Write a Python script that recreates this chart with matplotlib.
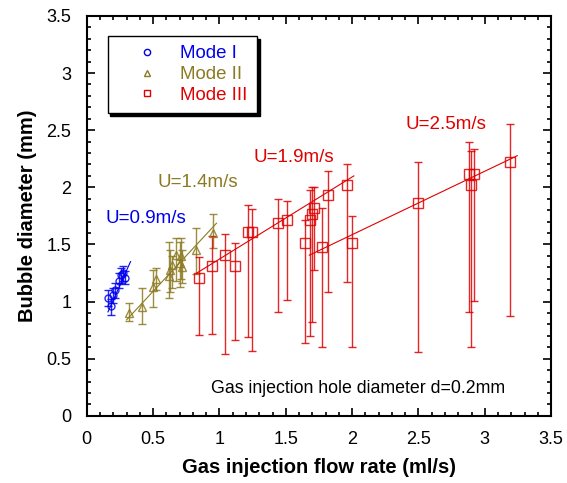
import matplotlib
matplotlib.use("Agg")
import matplotlib.pyplot as plt
from matplotlib.lines import Line2D
from matplotlib.ticker import MultipleLocator

plt.rcParams['font.family'] = ['Liberation Sans', 'DejaVu Sans']

# Mode I (circles)
m1_x = [0.16, 0.18, 0.20, 0.21, 0.24, 0.26, 0.27, 0.29]
m1_y = [1.03, 0.96, 1.06, 1.10, 1.18, 1.23, 1.25, 1.21]
m1_lo = [0.96, 0.88, 0.99, 1.03, 1.12, 1.16, 1.18, 1.15]
m1_hi = [1.10, 1.02, 1.12, 1.16, 1.25, 1.29, 1.31, 1.27]

# Mode II (triangles)
m2_x = [0.32, 0.42, 0.50, 0.52, 0.62, 0.63, 0.64, 0.67, 0.70, 0.71, 0.72, 0.82, 0.95]
m2_y = [0.90, 0.95, 1.13, 1.20, 1.22, 1.28, 1.32, 1.41, 1.34, 1.40, 1.30, 1.45, 1.60]
m2_lo = [0.83, 0.80, 0.95, 1.10, 1.03, 1.08, 1.12, 1.18, 1.13, 1.20, 1.16, 1.24, 1.47]
m2_hi = [0.99, 1.12, 1.28, 1.29, 1.52, 1.45, 1.40, 1.56, 1.52, 1.56, 1.45, 1.64, 1.77]

# Mode III (squares)
m3_x = [0.845, 0.945, 1.04, 1.116, 1.215, 1.247, 1.443, 1.506, 1.645, 1.68, 1.70,
        1.715, 1.77, 1.815, 1.958, 1.996, 2.50, 2.883, 2.896, 2.918, 3.19]
m3_y = [1.21, 1.31, 1.41, 1.31, 1.61, 1.61, 1.69, 1.715, 1.51, 1.715, 1.77,
        1.82, 1.48, 1.93, 2.02, 1.51, 1.866, 2.117, 2.02, 2.117, 2.22]
m3_lo = [0.71, 0.72, 0.54, 0.66, 0.69, 0.57, 0.907, 1.015, 0.636, 0.70, 0.825,
         1.28, 0.606, 1.08, 1.17, 0.606, 0.557, 0.907, 0.60, 1.006, 0.877]
m3_hi = [1.39, 1.57, 1.59, 1.51, 1.846, 1.81, 1.90, 1.88, 1.715, 1.98, 2.006,
         2.006, 1.82, 2.146, 2.205, 1.75, 2.22, 2.40, 2.32, 2.336, 2.55]

# fitted lines (end points)
fit1_x, fit1_y = [0.16, 0.33], [0.91, 1.35]
fit2_x, fit2_y = [0.30, 0.978], [0.84, 1.686]
fit3a_x, fit3a_y = [0.827, 2.013], [1.248, 2.10]
fit3b_x, fit3b_y = [1.677, 3.245], [1.406, 2.277]

labels = ['Mode I', 'Mode II', 'Mode III']
speed_text = ['U=0.9m/s', 'U=1.4m/s', 'U=1.9m/s', 'U=2.5m/s']
speed_pos = [(0.14, 1.73), (0.53, 2.04), (1.26, 2.26), (2.40, 2.55)]

c_blue = '#0000ee'
c_olive = '#8c7a22'
c_red = '#e00000'
speed_colors = [c_blue, c_olive, c_red, c_red]

fig = plt.figure(figsize=(5.67, 4.83), dpi=100)
ax = fig.add_axes([0.153, 0.139, 0.819, 0.828])


def draw_mode(x, y, lo, hi, color, marker, ms):
    yerr = [[yy - l for yy, l in zip(y, lo)], [h - yy for yy, h in zip(y, hi)]]
    ax.errorbar(x, y, yerr=yerr, fmt=marker, color=color, mfc='none',
                mec=color, ms=ms, mew=1.0, elinewidth=1.0, capsize=3,
                capthick=1.0, alpha=0.85)


draw_mode(m1_x, m1_y, m1_lo, m1_hi, c_blue, 'o', 5)
draw_mode(m2_x, m2_y, m2_lo, m2_hi, c_olive, '^', 6)
draw_mode(m3_x, m3_y, m3_lo, m3_hi, c_red, 's', 6.5)

ax.plot(fit1_x, fit1_y, color=c_blue, lw=0.8)
ax.plot(fit2_x, fit2_y, color=c_olive, lw=0.8)
ax.plot(fit3a_x, fit3a_y, color=c_red, lw=0.8)
ax.plot(fit3b_x, fit3b_y, color=c_red, lw=0.8)

for t, (tx, ty), c in zip(speed_text, speed_pos, speed_colors):
    ax.text(tx, ty, t, color=c, fontsize=13.5, ha='left', va='center')

ax.text(0.94, 0.24, 'Gas injection hole diameter d=0.2mm', fontsize=12.8,
        ha='left', va='center')

ax.set_xlim(0, 3.5)
ax.set_ylim(0, 3.5)
ax.xaxis.set_major_locator(MultipleLocator(0.5))
ax.yaxis.set_major_locator(MultipleLocator(0.5))
ax.xaxis.set_minor_locator(MultipleLocator(0.1))
ax.yaxis.set_minor_locator(MultipleLocator(0.1))
ax.xaxis.set_major_formatter(plt.FuncFormatter(lambda v, p: f'{v:g}'))
ax.yaxis.set_major_formatter(plt.FuncFormatter(lambda v, p: f'{v:g}'))
ax.tick_params(which='both', direction='in', top=True, right=True,
               labelsize=13, width=1.2)
ax.tick_params(which='major', length=6, pad=11)
ax.tick_params(which='minor', length=3)
for s in ax.spines.values():
    s.set_linewidth(1.5)

ax.set_xlabel('Gas injection flow rate (ml/s)', fontsize=14.5, fontweight='bold')
ax.set_ylabel('Bubble diameter (mm)', fontsize=14.5, fontweight='bold')
ax.xaxis.set_label_coords(0.5, -0.105)
ax.yaxis.set_label_coords(-0.108, 0.5)

handles = [
    Line2D([], [], ls='none', marker='o', mfc='none', mec=c_blue, ms=4.5),
    Line2D([], [], ls='none', marker='^', mfc='none', mec=c_olive, ms=4.5),
    Line2D([], [], ls='none', marker='s', mfc='none', mec=c_red, ms=4.5),
]
leg = ax.legend(handles, labels, loc='upper left', bbox_to_anchor=(0.045, 0.95),
                borderaxespad=0, fontsize=13.4, frameon=True, fancybox=False,
                edgecolor='black', shadow={'color': 'black', 'alpha': 1},
                framealpha=1, labelcolor=[c_blue, c_olive, c_red],
                handletextpad=0.2, labelspacing=0.2, borderpad=0.5,
                handlelength=3.2)
leg.get_frame().set_linewidth(1.0)

fig.savefig('out.png', dpi=100)
